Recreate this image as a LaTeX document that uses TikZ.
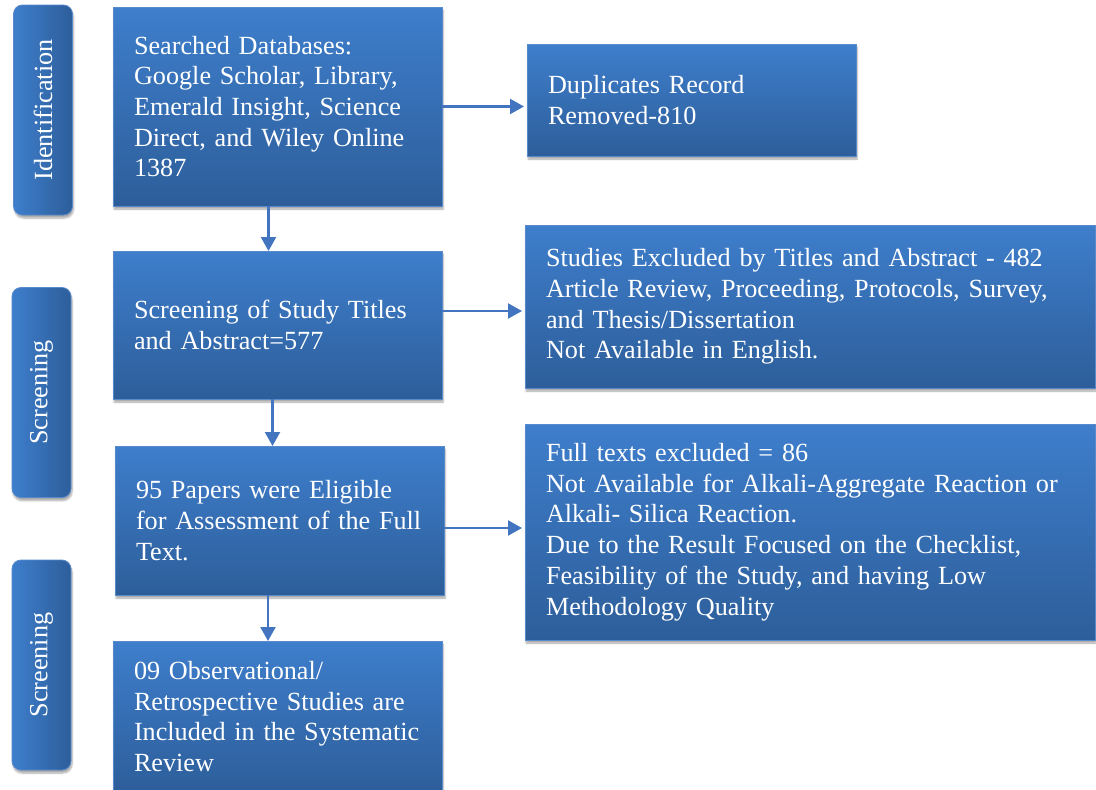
\documentclass[tikz,border=0pt]{standalone}
\usepackage{fontspec}
\setmainfont{Liberation Serif}
\usetikzlibrary{arrows.meta,shadows.blur}

\definecolor{boxtop}{RGB}{62,126,204}
\definecolor{boxbot}{RGB}{45,94,154}
\definecolor{boxline}{RGB}{88,138,204}
\definecolor{flowblue}{RGB}{66,116,192}

\begin{document}
\begin{tikzpicture}[x=1pt, y=-1pt,
    boxfont/.style={font=\fontsize{26.2}{30.7}\selectfont},
    stepbox/.style={boxfont, draw=boxline, line width=0.8pt,
      top color=boxtop, bottom color=boxbot, text=white, align=left,
      inner xsep=21pt, inner ysep=0pt, outer sep=0pt,
      execute at begin node={\hyphenpenalty=10000},
      blur shadow={shadow xshift=1pt, shadow yshift=-3pt,
        shadow opacity=35, shadow blur steps=6}},
    leftbox/.style={stepbox, minimum width=329pt, text width=287pt},
    rightbox/.style={stepbox, minimum width=570pt, text width=528pt},
    phase/.style={draw=boxline, line width=0.8pt, rounded corners=9pt,
      left color=boxtop, right color=boxbot, outer sep=0pt,
      minimum width=59pt, minimum height=210pt,
      blur shadow={shadow xshift=1pt, shadow yshift=-3pt,
        shadow opacity=35, shadow blur steps=6},
      label={[rotate=90, text=white, boxfont]center:#1}},
    flow/.style={draw=flowblue, line width=2.2pt,
      -{Triangle[width=15pt,length=14pt]}}]

  \useasboundingbox (0,0) rectangle (1096,790);

  % Phases
  \node[phase=Identification] (ident) at (43,110) {};
  \node[phase=Screening] (screen1) at (41.5,392.5) {};
  \node[phase=Screening] (screen2) at (41.5,665) {};

  % Main column
  \node[leftbox, minimum height=199pt] (search) at (277.5,106.5)
    {Searched Databases:\\ Google Scholar, Library,\\ Emerald Insight, Science\\ Direct, and Wiley Online\\ 1387};
  \node[leftbox, minimum height=148pt] (titles) at (277.5,325)
    {Screening of Study Titles\\ and Abstract=577};
  \node[leftbox, minimum height=149pt] (eligible) at (279.5,520.5)
    {95 Papers were Eligible\\ for Assessment of the Full\\ Text.};
  \node[leftbox, minimum height=151pt] (included) at (277.5,716.5)
    {09 Observational/\\ Retrospective Studies are\\ Included in the Systematic\\ Review};

  % Exclusions
  \node[leftbox, minimum height=112pt] (dupl) at (691.5,100)
    {Duplicates Record\\ Removed-810};
  \node[rightbox, minimum height=163pt] (exclA) at (810,306.5)
    {Studies Excluded by Titles and Abstract - 482\\ Article Review, Proceeding, Protocols, Survey,\\ and Thesis/Dissertation\\ Not Available in English.};
  \node[rightbox, minimum height=216pt] (exclB) at (810,532)
    {Full texts excluded = 86\\ Not Available for Alkali-Aggregate Reaction or\\ Alkali- Silica Reaction.\\ Due to the Result Focused on the Checklist,\\ Feasibility of the Study, and having Low\\ Methodology Quality};

  % Arrows down
  \draw[flow] ([xshift=-9pt]search.south) -- ([xshift=-9pt]search.south |- titles.north);
  \draw[flow] ([xshift=-5pt]titles.south) -- ([xshift=-5pt]titles.south |- eligible.north);
  \draw[flow] ([xshift=-11.5pt]eligible.south) -- ([xshift=-11.5pt]eligible.south |- included.north);

  % Arrows right
  \draw[flow, shorten >=3pt] (search.east) -- (search.east -| dupl.west);
  \draw[flow, shorten >=3pt] ([yshift=14pt]titles.east) -- ([yshift=14pt]titles.east -| exclA.west);
  \draw[flow, shorten >=3pt] ([yshift=-7.5pt]eligible.east) -- ([yshift=-7.5pt]eligible.east -| exclB.west);

\end{tikzpicture}
\end{document}
